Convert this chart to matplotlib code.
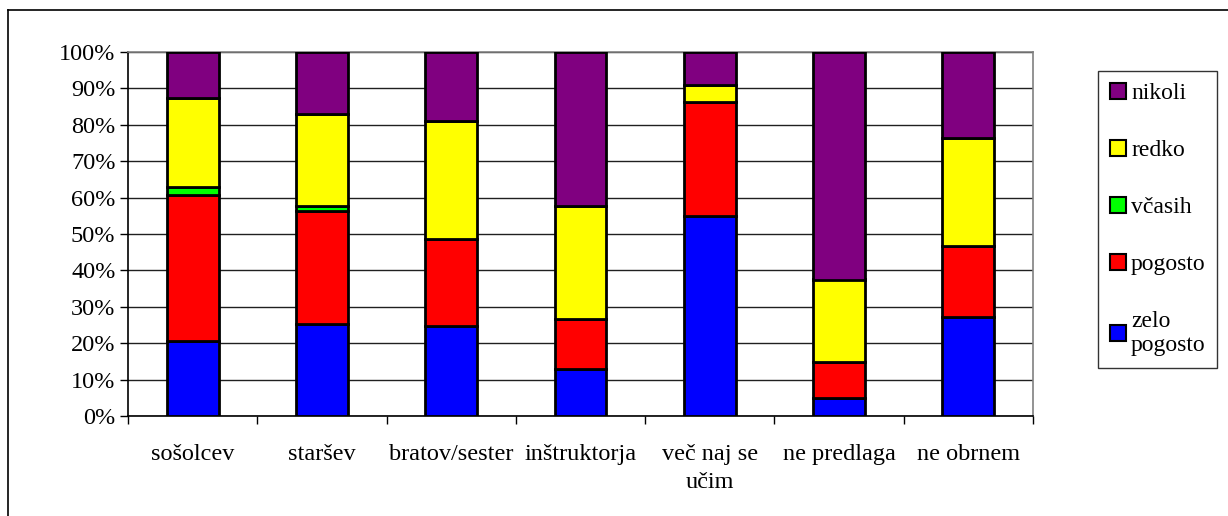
import matplotlib
matplotlib.use('Agg')
import matplotlib.pyplot as plt
from matplotlib.patches import Patch
from matplotlib.lines import Line2D
import numpy as np

categories = ['sošolcev', 'staršev', 'bratov/sester', 'inštruktorja',
              'več naj se\nučim', 'ne predlaga', 'ne obrnem']
series_names = ['zelo\npogosto', 'pogosto', 'včasih', 'redko', 'nikoli']
zelo_pogosto = [20.6, 25.2, 24.6, 12.8, 55.0, 5.0, 27.1]
pogosto = [40.2, 31.1, 24.0, 13.8, 31.3, 9.7, 19.5]
vcasih = [2.0, 1.5, 0.0, 0.0, 0.0, 0.0, 0.0]
redko = [24.7, 25.2, 32.4, 31.0, 4.5, 22.8, 29.9]
nikoli = [12.5, 17.0, 19.0, 42.4, 9.2, 62.5, 23.5]
yticks = [0, 10, 20, 30, 40, 50, 60, 70, 80, 90, 100]

colors = ['#0000ff', '#ff0000', '#00ff00', '#ffff00', '#800080']

plt.rcParams['font.family'] = ['Liberation Serif', 'DejaVu Serif']
plt.rcParams['font.size'] = 17.5

fig = plt.figure(figsize=(12.28, 5.16), dpi=100)
ax = fig.add_axes([128 / 1228, 1 - 416 / 516, 905 / 1228, 364 / 516])

x = np.arange(len(categories))
data = [zelo_pogosto, pogosto, vcasih, redko, nikoli]
bottom = np.zeros(len(categories))
for vals, col in zip(data, colors):
    vals = np.array(vals)
    ax.bar(x, vals, width=0.4, bottom=bottom, color=col, edgecolor='black',
           linewidth=2, zorder=3)
    bottom += vals

ax.set_xlim(-0.5, len(categories) - 0.5)
ax.set_ylim(0, 100)
ax.set_yticks(yticks)
ax.set_yticklabels(['%d%%' % v for v in yticks])
ax.yaxis.grid(True, color='#202020', linewidth=1, zorder=0)

ax.set_xticks(np.arange(-0.5, len(categories), 1.0))
ax.set_xticklabels([])
ax.set_xticks(x, minor=True)
ax.set_xticklabels(categories, minor=True, linespacing=1.45, va='top')
ax.tick_params(axis='x', which='minor', length=0, pad=20)
ax.tick_params(axis='x', which='major', length=6, width=1, direction='out')
ax.tick_params(axis='y', length=6, width=1, direction='out', pad=3)

ax.spines['left'].set_color('black')
ax.spines['bottom'].set_color('black')
ax.spines['top'].set_color('#808080')
ax.spines['right'].set_color('#808080')
for s in ax.spines.values():
    s.set_linewidth(1.2)

handles = [Patch(facecolor=c, edgecolor='black', linewidth=1.5) for c in colors]
leg = fig.legend(handles[::-1], series_names[::-1], loc='upper left',
                 bbox_to_anchor=(1098 / 1228, 1 - 71 / 516),
                 frameon=True, fancybox=False, edgecolor='black',
                 handlelength=0.7, handleheight=0.7, handletextpad=0.2,
                 labelspacing=1.5, borderpad=0.5, borderaxespad=0,
                 fontsize=17)
leg.get_frame().set_linewidth(1)

# outer chart border (left and top visible)
fig.add_artist(Line2D([8 / 1228, 8 / 1228], [0, 1 - 10 / 516], color='black',
                      linewidth=1.2, transform=fig.transFigure))
fig.add_artist(Line2D([8 / 1228, 1], [1 - 10 / 516, 1 - 10 / 516], color='black',
                      linewidth=1.2, transform=fig.transFigure))

fig.savefig('out.png', dpi=100)
